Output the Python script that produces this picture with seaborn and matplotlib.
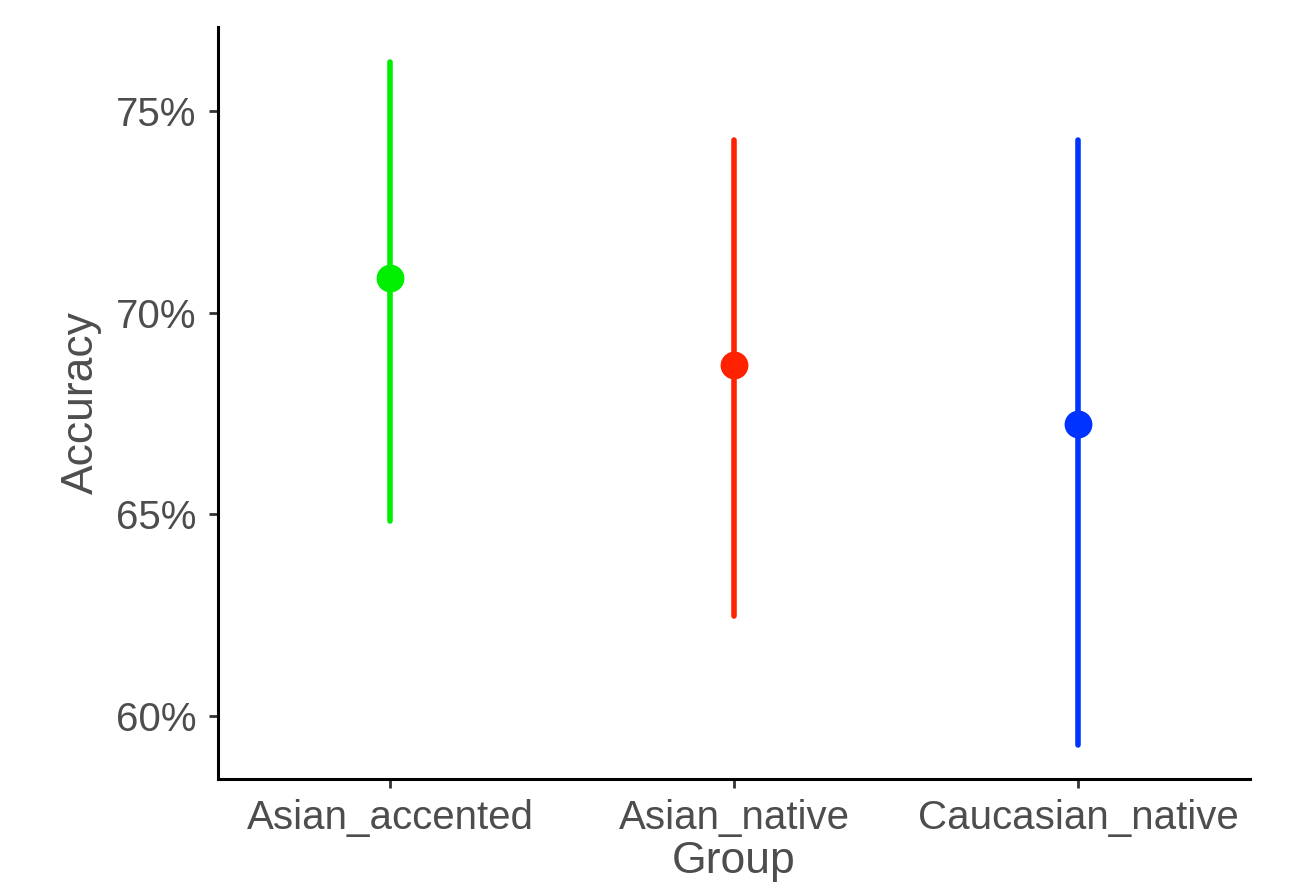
import numpy as np
import pandas as pd
import matplotlib
matplotlib.use("Agg")
import matplotlib.pyplot as plt
import seaborn as sns
from matplotlib.ticker import FuncFormatter

groups = ["Asian_accented", "Asian_native", "Caucasian_native"]
means = [70.85, 68.69, 67.23]
lows = [64.83, 62.48, 59.28]
highs = [76.21, 74.28, 74.28]
colors = ["#00EE00", "#FF2200", "#0033FF"]
yticks = [60, 65, 70, 75]

rows = []
for g, lo, m, hi in zip(groups, lows, means, highs):
    for v in (lo, m, hi):
        rows.append({"Group": g, "Accuracy": v})
df = pd.DataFrame(rows)

sns.set_theme(style="ticks")
plt.rcParams["font.family"] = ["Liberation Sans", "DejaVu Sans"]

fig = plt.figure(figsize=(13.01, 8.85), dpi=100)
ax = fig.add_axes([218/1301, 1-779/885, (1250-218)/1301, (779-27)/885])

sns.pointplot(data=df, x="Group", y="Accuracy", hue="Group", order=groups,
              hue_order=groups, palette=colors, estimator=np.median,
              errorbar=lambda v: (v.min(), v.max()), linestyle="none",
              markers="o", markersize=18, err_kws={"linewidth": 4.0},
              legend=False, ax=ax)

ax.set_xlim(-0.5, 2.5)
ax.set_ylim(58.44, 77.08)
ax.set_yticks(yticks)
ax.yaxis.set_major_formatter(FuncFormatter(lambda v, p: f"{v:.0f}%"))

for s in ["top", "right"]:
    ax.spines[s].set_visible(False)
for s in ["left", "bottom"]:
    ax.spines[s].set_linewidth(2.2)
    ax.spines[s].set_color("black")

ax.tick_params(axis="both", length=6.5, width=2, color="#333333",
               labelsize=29, labelcolor="#4D4D4D")
ax.tick_params(axis="y", pad=9)
ax.tick_params(axis="x", pad=8)
ax.set_xlabel("Group", fontsize=32, color="#4D4D4D", labelpad=3)
ax.set_ylabel("Accuracy", fontsize=32, color="#4D4D4D", labelpad=10)

fig.savefig("out.png", dpi=100)
